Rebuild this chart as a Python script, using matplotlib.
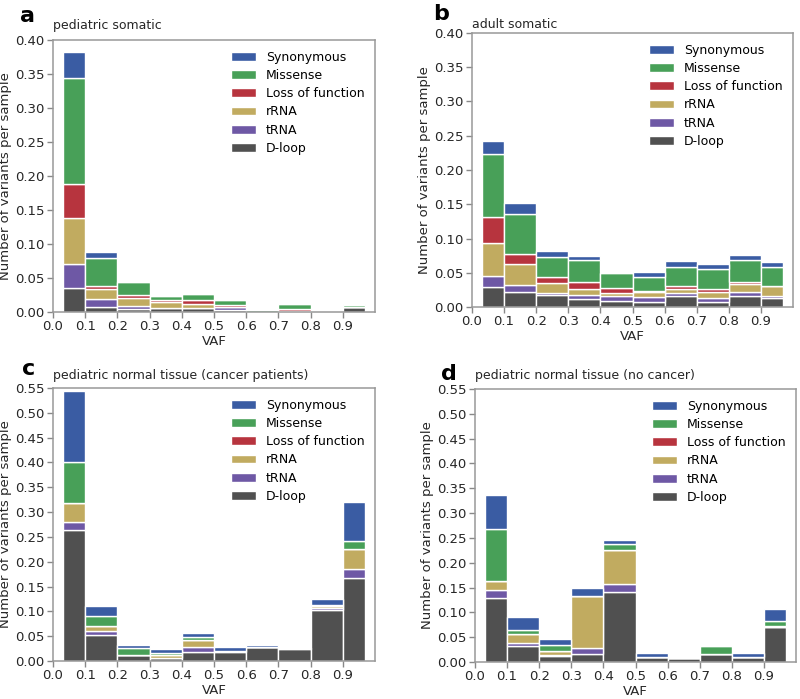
import matplotlib
matplotlib.use("Agg")
import matplotlib.pyplot as plt
import numpy as np

# VAF bins (first and last bins are narrower)
bin_edges = [0.03, 0.1, 0.2, 0.3, 0.4, 0.5, 0.6, 0.7, 0.8, 0.9, 0.97]

categories = ["D-loop", "tRNA", "rRNA", "Loss of function", "Missense", "Synonymous"]
colors = ["#505050", "#6E58A5", "#C1AB60", "#B7343E", "#48A058", "#3A5CA3"]

# a - pediatric somatic
a_dloop = [0.036, 0.0074, 0.0044, 0.0059, 0.0054, 0.0034, 0.0, 0.0, 0.002, 0.0069]
a_trna = [0.035, 0.011, 0.004, 0.0, 0.0, 0.0034, 0.0, 0.0, 0.0, 0.0]
a_rrna = [0.067, 0.015, 0.012, 0.0083, 0.0064, 0.0, 0.0, 0.002, 0.0, 0.0]
a_lof = [0.050, 0.005, 0.004, 0.003, 0.0062, 0.004, 0.0, 0.003, 0.0, 0.0]
a_missense = [0.156, 0.041, 0.0197, 0.0068, 0.009, 0.0063, 0.003, 0.007, 0.0, 0.0034]
a_syn = [0.039, 0.0084, 0.0, 0.0, 0.0, 0.0, 0.0, 0.0, 0.0, 0.002]

# b - adult somatic
b_dloop = [0.0288, 0.0215, 0.0176, 0.0112, 0.0093, 0.0073, 0.0156, 0.0078, 0.0166, 0.0127]
b_trna = [0.017, 0.010, 0.0034, 0.0068, 0.0068, 0.0069, 0.0044, 0.005, 0.0049, 0.004]
b_rrna = [0.048, 0.031, 0.0147, 0.0084, 0.0049, 0.0083, 0.0064, 0.0093, 0.0117, 0.0137]
b_lof = [0.038, 0.0147, 0.0083, 0.0098, 0.0064, 0.001, 0.0049, 0.0039, 0.0039, 0.0]
b_missense = [0.092, 0.058, 0.0288, 0.0327, 0.022, 0.021, 0.0278, 0.0293, 0.0318, 0.0287]
b_syn = [0.019, 0.017, 0.0088, 0.0054, 0.0, 0.0068, 0.0074, 0.007, 0.0064, 0.007]

# c - pediatric normal tissue (cancer patients)
c_dloop = [0.263, 0.0526, 0.0126, 0.0063, 0.0182, 0.0182, 0.0273, 0.0238, 0.1023, 0.1668]
c_trna = [0.017, 0.007, 0.0, 0.0, 0.009, 0.002, 0.0, 0.003, 0.005, 0.018]
c_rrna = [0.038, 0.0105, 0.0, 0.0056, 0.0147, 0.0, 0.0, 0.0, 0.003, 0.040]
c_lof = [0.0] * 10
c_missense = [0.083, 0.0204, 0.014, 0.0042, 0.007, 0.0, 0.0, 0.0, 0.003, 0.016]
c_syn = [0.1436, 0.021, 0.0056, 0.0077, 0.007, 0.008, 0.005, 0.0, 0.0117, 0.080]

# d - pediatric normal tissue (no cancer)
d_dloop = [0.129, 0.0322, 0.012, 0.0161, 0.1414, 0.0094, 0.008, 0.0168, 0.0094, 0.071]
d_trna = [0.016, 0.0067, 0.003, 0.012, 0.016, 0.0, 0.0, 0.0, 0.0, 0.0]
d_rrna = [0.018, 0.0167, 0.008, 0.104, 0.068, 0.0, 0.0, 0.0, 0.0, 0.002]
d_lof = [0.0] * 10
d_missense = [0.105, 0.0087, 0.012, 0.0, 0.0127, 0.0, 0.0, 0.0147, 0.0, 0.010]
d_syn = [0.068, 0.027, 0.012, 0.016, 0.0067, 0.008, 0.0, 0.0, 0.008, 0.024]

# letter, title, stacks, ymax, axes box in px (l, t, r, b), title pad, letter pos
panels = [
    ("a", "pediatric somatic", [a_dloop, a_trna, a_rrna, a_lof, a_missense, a_syn], 0.40,
     [53, 40, 375, 312], 8, (20, 22)),
    ("b", "adult somatic", [b_dloop, b_trna, b_rrna, b_lof, b_missense, b_syn], 0.40,
     [472, 33, 793, 307], 3.5, (433, 20)),
    ("c", "pediatric normal tissue (cancer patients)",
     [c_dloop, c_trna, c_rrna, c_lof, c_missense, c_syn], 0.55, [53, 388, 375, 661],
     6.5, (22, 375)),
    ("d", "pediatric normal tissue (no cancer)",
     [d_dloop, d_trna, d_rrna, d_lof, d_missense, d_syn], 0.55, [475, 389, 796, 662],
     7, (441, 380)),
]

W, H = 800, 699
fig = plt.figure(figsize=(W / 100, H / 100), dpi=100)
plt.rcParams["font.family"] = "DejaVu Sans"
txt = "#262626"

left_edges = np.array(bin_edges[:-1])
widths = np.diff(bin_edges)

for letter, title, series, ymax, (x0, y0, x1, y1), tpad, (lx, ly) in panels:
    ax = fig.add_axes([x0 / W, (H - y1) / H, (x1 - x0) / W, (y1 - y0) / H])
    bottom = np.zeros(len(left_edges))
    for vals, name, col in zip(series, categories, colors):
        ax.bar(left_edges, vals, width=widths, bottom=bottom, align="edge",
               color=col, edgecolor="white", linewidth=1.0, label=name)
        bottom += np.array(vals)

    ax.set_xlim(0, 1.0)
    ax.set_ylim(0, ymax)
    xt = np.arange(0, 1.0, 0.1)
    yt = np.arange(0, ymax + 0.001, 0.05)
    ax.set_xticks(xt)
    ax.set_xticklabels([f"{t:.1f}" for t in xt])
    ax.set_yticks(yt)
    ax.set_yticklabels([f"{t:.2f}" for t in yt])
    ax.tick_params(labelsize=9.5, colors="#888888", labelcolor=txt,
                   length=4, width=1.0, pad=2)
    for s in ax.spines.values():
        s.set_color("#999999")
        s.set_linewidth(1.1)
    ax.set_xlabel("VAF", fontsize=9.5, color=txt, labelpad=1)
    ax.set_ylabel("Number of variants per sample", fontsize=9.5, color=txt, labelpad=2.5)
    ax.set_title(title, loc="left", fontsize=9, color=txt, pad=tpad)

    h, l = ax.get_legend_handles_labels()
    ax.legend(h[::-1], l[::-1], loc="upper right", frameon=False, fontsize=9,
              labelspacing=0.42, handlelength=2.0, borderaxespad=0.45)

    fig.text(lx / W, 1 - ly / H, letter, fontsize=16, fontweight="bold",
             ha="left", va="baseline")

fig.savefig("out.png", dpi=100)
